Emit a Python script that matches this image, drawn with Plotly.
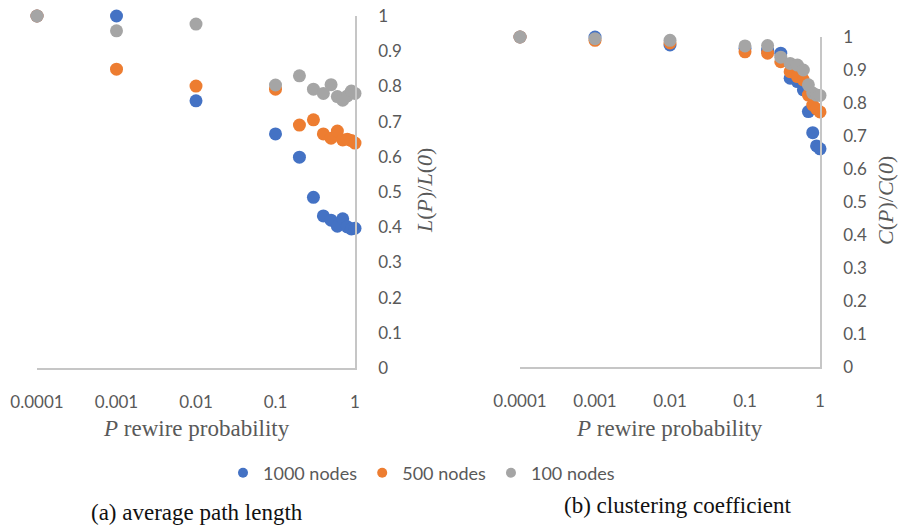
import plotly.graph_objects as go

# Rewiring probabilities (log scale)
p_values = [0.0001, 0.001, 0.01, 0.1, 0.2, 0.3, 0.4, 0.5, 0.6, 0.7, 0.8, 0.9, 1.0]

# (a) normalised average path length L(P)/L(0)
path_1000 = [1.0, 1.0, 0.759, 0.665, 0.599, 0.485, 0.432, 0.420, 0.403, 0.424, 0.401, 0.395, 0.397]
path_500 = [1.0, 0.849, 0.801, 0.792, 0.690, 0.705, 0.665, 0.653, 0.673, 0.648, 0.650, 0.646, 0.639]
path_100 = [1.0, 0.958, 0.977, 0.804, 0.830, 0.792, 0.780, 0.805, 0.771, 0.761, 0.773, 0.787, 0.780]

# (b) normalised clustering coefficient C(P)/C(0)
clust_1000 = [1.0, 1.0, 0.976, 0.965, 0.960, 0.951, 0.875, 0.865, 0.840, 0.774, 0.710, 0.670, 0.661]
clust_500 = [1.0, 0.990, 0.982, 0.955, 0.951, 0.925, 0.895, 0.880, 0.870, 0.824, 0.794, 0.782, 0.773]
clust_100 = [1.0, 0.995, 0.990, 0.973, 0.974, 0.939, 0.920, 0.915, 0.900, 0.855, 0.830, 0.824, 0.823]

series_names = ["1000 nodes", "500 nodes", "100 nodes"]
series_colors = ["#4472C4", "#ED7D31", "#A5A5A5"]

x_tickvals = [0.0001, 0.001, 0.01, 0.1, 1]
x_ticktext = ["0.0001", "0.001", "0.01", "0.1", "1"]
y_tickvals = [0, 0.1, 0.2, 0.3, 0.4, 0.5, 0.6, 0.7, 0.8, 0.9, 1.0]
y_ticktext = ["0", "0.1", "0.2", "0.3", "0.4", "0.5", "0.6", "0.7", "0.8", "0.9", "1"]

W, H = 899, 527
TICK_FONT = dict(family="Lato, 'Open Sans', sans-serif", size=17, color="#595959")
SERIF = "'Liberation Serif', 'Times New Roman', serif"
AXIS_LINE = "#C6C6C6"

fig = go.Figure()

panels = [
    ("x", "y", [path_1000, path_500, path_100]),
    ("x2", "y2", [clust_1000, clust_500, clust_100]),
]
for xa, ya, data in panels:
    for name, color, vals in zip(series_names, series_colors, data):
        fig.add_trace(go.Scatter(
            x=p_values, y=vals, mode="markers", name=name,
            marker=dict(size=13, color=color),
            xaxis=xa, yaxis=ya, showlegend=False, cliponaxis=False,
        ))

# Legend entries with smaller symbols
for name, color in zip(series_names, series_colors):
    fig.add_trace(go.Scatter(
        x=[None], y=[None], mode="markers", name=name,
        marker=dict(size=10, color=color), showlegend=True,
    ))


def xaxis_style(domain, anchor):
    return dict(
        type="log", domain=domain, anchor=anchor, range=[-4, 0],
        tickvals=x_tickvals, ticktext=x_ticktext, tickfont=TICK_FONT,
        showgrid=False, zeroline=False, showline=True, automargin=False,
        linecolor=AXIS_LINE, linewidth=1.5, ticks="", ticklabelstandoff=18,
    )


def yaxis_style(domain, anchor):
    return dict(
        domain=domain, anchor=anchor, range=[0, 1], side="right",
        tickvals=y_tickvals, ticktext=y_ticktext, tickfont=TICK_FONT,
        showgrid=False, zeroline=False, showline=True, automargin=False,
        linecolor=AXIS_LINE, linewidth=1.5, ticks="", ticklabelstandoff=18,
    )


fig.update_layout(
    width=W, height=H,
    margin=dict(l=0, r=0, t=0, b=0, autoexpand=False),
    paper_bgcolor="white", plot_bgcolor="white",
    xaxis=xaxis_style([37 / W, 355 / W], "y"),
    yaxis=yaxis_style([1 - 368 / H, 1 - 16 / H], "x"),
    xaxis2=xaxis_style([520 / W, 820 / W], "y2"),
    yaxis2=yaxis_style([1 - 367 / H, 1 - 37 / H], "x2"),
    legend=dict(
        orientation="h", x=223 / W, y=1 - 473 / H, xanchor="left", yanchor="middle",
        font=dict(family="Lato, 'Open Sans', sans-serif", size=18, color="#595959"),
        bgcolor="rgba(0,0,0,0)", itemwidth=30,
    ),
)

annotations = [
    # x-axis titles
    dict(x=196 / W, y=1 - 428 / H, text="<i>P</i> rewire probability",
         font=dict(family=SERIF, size=23, color="#595959")),
    dict(x=669 / W, y=1 - 428 / H, text="<i>P</i> rewire probability",
         font=dict(family=SERIF, size=23, color="#595959")),
    # y-axis titles
    dict(x=424 / W, y=1 - 191 / H, text="<i>L</i>(<i>P</i>)/<i>L</i>(<i>0</i>)", textangle=-90,
         font=dict(family=SERIF, size=22, color="#595959")),
    dict(x=886 / W, y=1 - 201 / H, text="<i>C</i>(<i>P</i>)/<i>C</i>(<i>0</i>)", textangle=-90,
         font=dict(family=SERIF, size=22, color="#595959")),
    # panel captions
    dict(x=197 / W, y=1 - 512 / H, text="(a) average path length",
         font=dict(family=SERIF, size=23, color="#111111")),
    dict(x=678 / W, y=1 - 505 / H, text="(b) clustering coefficient",
         font=dict(family=SERIF, size=23, color="#111111")),
]
for a in annotations:
    a.update(xref="paper", yref="paper", showarrow=False, xanchor="center", yanchor="middle")
fig.update_layout(annotations=annotations)

fig.write_html("out.html")
